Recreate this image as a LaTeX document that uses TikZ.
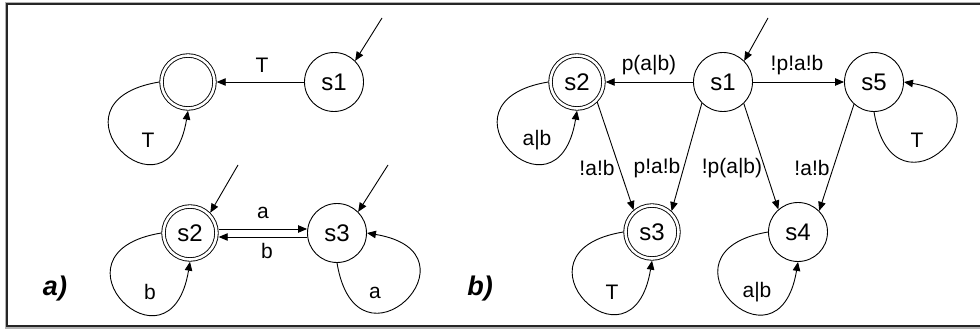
\documentclass[tikz,border=0pt]{standalone}
\usepackage{fontspec}
\setmainfont{Liberation Sans}
\usetikzlibrary{arrows.meta}
\tikzset{
  st/.style={circle, draw, line width=0.9pt, minimum size=59pt, inner sep=0pt, outer sep=0.45pt,
    font=\fontsize{24}{28}\selectfont},
  acc/.style={circle, draw, line width=0.9pt, double, double distance=2.6pt, minimum size=53pt,
    inner sep=0pt, outer sep=2.2pt, font=\fontsize{24}{28}\selectfont},
  ed/.style={line width=0.9pt, -{Triangle[length=9pt,width=7.5pt]}},
  lb/.style={inner sep=0pt, font=\fontsize{21}{24}\selectfont},
  pl/.style={inner sep=0pt, font=\fontsize{27}{30}\selectfont\bfseries\itshape},
}
\begin{document}
\begin{tikzpicture}[x=1pt,y=-1pt]
\useasboundingbox (0,0) rectangle (980,331);
\clip (0,0) rectangle (980,331);
% frame
\draw[line width=3pt, black!30] (6.5,3.5) rectangle (995,327.5);
\draw[line width=1.8pt, black!85] (7,4) rectangle (995,326);

% ---------- panel a ----------
\node[acc] (aF) at (188,82) {};
\node[st]  (a1) at (334,82) {s1};
\node[acc] (a2) at (190,233) {s2};
\node[st]  (a3) at (337,233) {s3};
\coordinate (ia1) at (382,18);
\coordinate (ia2) at (238,165);
\coordinate (ia3) at (388,165);

\draw[ed] (ia1) -- (a1.45);
\draw[ed] (ia2) -- (a2.45);
\draw[ed] (ia3) -- (a3.45);

\draw[ed] (a1.west) -- (aF.east);
\node[lb] (laT) at (262,65) {T};

\draw[ed] (aF.west) .. controls ([shift={(-150,20)}]aF.center) and ([shift={(-20,150)}]aF.center) .. (aF.south);
\node[lb] (laTT) at (148,140) {T};

\draw[ed] ([yshift=4pt]a2.east) -- ([yshift=4pt]a3.west);
\draw[ed] ([yshift=-4pt]a3.west) -- ([yshift=-4pt]a2.east);
\node[lb] (laa) at (263,213) {a};
\node[lb] (lab) at (267,251) {b};

\draw[ed] (a2.west) .. controls ([shift={(-150,20)}]a2.center) and ([shift={(-20,150)}]a2.center) .. (a2.south);
\node[lb] (lab2) at (150,292) {b};

\draw[ed] (a3.south) .. controls ([shift={(20,150)}]a3.center) and ([shift={(150,20)}]a3.center) .. (a3.east);
\node[lb] (laa3) at (375,293) {a};

\node[pl] (pa) at (55,289) {a)};

% ---------- panel b ----------
\node[st]  (b1) at (723,82) {s1};
\node[acc] (b2) at (577,82) {s2};
\node[st]  (b5) at (874,82) {s5};
\node[acc] (b3) at (652,232) {s3};
\node[st]  (b4) at (798,232) {s4};
\coordinate (ib1) at (768,18);
\draw[ed] (ib1) -- (b1.45);

\draw[ed] (b1.west) -- (b2.east);
\node[lb] (lb12) at (649,65) {p(a|b)};
\draw[ed] (b1.east) -- (b5.west);
\node[lb] (lb15) at (797,65) {!p!a!b};

\draw[ed] (b2.-45) -- (b3.130);
\node[lb] (lb23) at (597,168) {!a!b};
\draw[ed] (b1.225) -- (b3.47);
\node[lb] (lb13) at (657,168) {p!a!b};
\draw[ed] (b1.-46) -- (b4.131);
\node[lb] (lb14) at (732,168) {!p(a|b)};
\draw[ed] (b5.228) -- (b4.45);
\node[lb] (lb54) at (812,168) {!a!b};

\draw[ed] (b2.west) .. controls ([shift={(-150,20)}]b2.center) and ([shift={(-20,150)}]b2.center) .. (b2.south);
\node[lb] (lb22) at (537,140) {a|b};
\draw[ed] (b5.south) .. controls ([shift={(20,150)}]b5.center) and ([shift={(150,20)}]b5.center) .. (b5.east);
\node[lb] (lb55) at (917,140) {T};
\draw[ed] (b3.west) .. controls ([shift={(-150,20)}]b3.center) and ([shift={(-20,150)}]b3.center) .. (b3.south);
\node[lb] (lb33) at (612,292) {T};
\draw[ed] (b4.west) .. controls ([shift={(-150,20)}]b4.center) and ([shift={(-20,150)}]b4.center) .. (b4.south);
\node[lb] (lb44) at (757,292) {a|b};

\node[pl] (pb) at (480,289) {b)};
\end{tikzpicture}
\end{document}
